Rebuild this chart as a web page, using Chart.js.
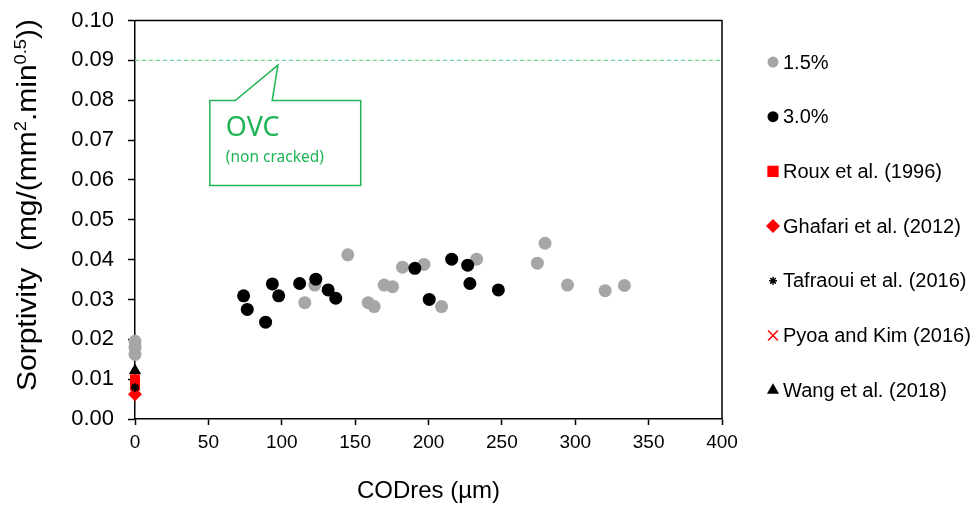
<!DOCTYPE html>
<html>
<head>
<meta charset="utf-8">
<script src="https://cdn.jsdelivr.net/npm/chart.js@4.4.1/dist/chart.umd.min.js"></script>
<style>
  html, body { margin: 0; padding: 0; background: #fff; }
  #wrap { width: 972px; height: 510px; position: relative; }
</style>
</head>
<body>
<div id="wrap"><canvas id="chart"></canvas></div>
<script>
// 1.5% fibre content
const codres15 = [0, 0, 0, 115.7, 122.5, 145, 158.9, 163, 169.8, 175.5, 182.3, 196.9, 208.9, 232.8, 274.2, 279.4, 294.7, 320.4, 333.5];
const sorpt15 = [0.0195, 0.0180, 0.0162, 0.0292, 0.0336, 0.0412, 0.0292, 0.0282, 0.0336, 0.0332, 0.0381, 0.0388, 0.0282, 0.0401, 0.0391, 0.0441, 0.0336, 0.0322, 0.0335];

// 3.0% fibre content
const codres30 = [74, 76.5, 89, 93.6, 97.9, 112.2, 123.2, 131.6, 136.8, 190.7, 200.5, 215.8, 226.7, 228.2, 247.6];
const sorpt30 = [0.0309, 0.0275, 0.0243, 0.0339, 0.0309, 0.0340, 0.0351, 0.0324, 0.0303, 0.0378, 0.0300, 0.0401, 0.0386, 0.0340, 0.0324];

// literature values (uncracked, COD = 0)
const rouxY = [0.0100, 0.0092, 0.0084];
const ghafariY = [0.0062];
const tafraouiY = [0.0078, 0.0080];
const pyoaY = [0.0085];
const wangY = [0.0122];

const ovcValue = 0.09;
const xTicksMax = 400;

const toPts = (xs, ys) => ys.map((y, i) => ({ x: xs[i], y: y }));
const atZero = ys => ys.map(y => ({ x: 0, y: y }));

// draws the legend on the right side
const sideLegend = {
    id: 'sideLegend',
    afterDraw(chart) {
        const ctx = chart.ctx;
        let y = 62;
        ctx.save();
        ctx.font = '20px "Liberation Sans", Arial, sans-serif';
        ctx.textBaseline = 'middle';
        ctx.textAlign = 'left';
        chart.data.datasets.forEach(ds => {
            if (!ds.legendStyle) return;
            const st = ds.legendStyle;
            ctx.fillStyle = ds.backgroundColor;
            ctx.strokeStyle = ds.borderColor;
            ctx.lineWidth = ds.borderWidth;
            Chart.helpers.drawPoint(ctx, {
                pointStyle: ds.pointStyle,
                radius: st.radius,
                rotation: 0,
                borderWidth: ds.borderWidth
            }, 773, y);
            ctx.fillStyle = '#000';
            ctx.fillText(ds.label, 783, y + 1);
            y += 54.7;
        });
        ctx.restore();
    }
};

// frame, y title and OVC callout
const extras = {
    id: 'extras',
    afterDraw(chart) {
        const ctx = chart.ctx;
        const a = chart.chartArea;
        const xs = chart.scales.x, ys = chart.scales.y;
        ctx.save();
        ctx.strokeStyle = '#000';
        ctx.lineWidth = 1.5;
        ctx.beginPath();
        ctx.moveTo(a.left, a.top);
        ctx.lineTo(a.right, a.top);
        ctx.lineTo(a.right, a.bottom);
        ctx.stroke();

        // callout box
        const l = xs.getPixelForValue(51), r = xs.getPixelForValue(153.8);
        const t = ys.getPixelForValue(0.0799), b = ys.getPixelForValue(0.0586);
        const p1 = xs.getPixelForValue(68.3), p2 = xs.getPixelForValue(93.5);
        const tipX = xs.getPixelForValue(97.4), tipY = ys.getPixelForValue(0.0888);
        ctx.strokeStyle = '#1fb455';
        ctx.lineWidth = 1.5;
        ctx.beginPath();
        ctx.moveTo(l, t);
        ctx.lineTo(p1, t);
        ctx.lineTo(tipX, tipY);
        ctx.lineTo(p2, t);
        ctx.lineTo(r, t);
        ctx.lineTo(r, b);
        ctx.lineTo(l, b);
        ctx.closePath();
        ctx.fillStyle = '#fff';
        ctx.fill();
        ctx.stroke();
        ctx.fillStyle = '#1fb455';
        ctx.textAlign = 'left';
        ctx.textBaseline = 'alphabetic';
        ctx.font = '27px "Noto Sans", "Open Sans", sans-serif';
        ctx.fillText('OVC', l + 16, t + 35);
        ctx.font = '15.5px "Noto Sans", "Open Sans", sans-serif';
        ctx.fillText('(non cracked)', l + 16, t + 61);

        // y axis title with superscripts, stretched to span the axis like the original
        ctx.fillStyle = '#000';
        ctx.translate(36, 205);
        ctx.rotate(-Math.PI / 2);
        const parts = [
            ['Sorptivity  (mg/(mm', 27, 0],
            ['2', 16.5, -10],
            ['.min', 27, 0],
            ['0.5', 16.5, -10],
            ['))', 27, 0]
        ];
        let w = 0;
        parts.forEach(p => { ctx.font = p[1] + 'px "Liberation Sans", Arial, sans-serif'; w += ctx.measureText(p[0]).width; });
        ctx.scale(372 / w, 1);
        let x = -w / 2;
        parts.forEach(p => {
            ctx.font = p[1] + 'px "Liberation Sans", Arial, sans-serif';
            ctx.fillText(p[0], x, p[2]);
            x += ctx.measureText(p[0]).width;
        });
        ctx.restore();
    }
};

const fontFam = '"Liberation Sans", Arial, sans-serif';

new Chart(document.getElementById('chart'), {
    type: 'scatter',
    data: {
        datasets: [
            {
                label: 'OVC',
                type: 'line',
                data: [{ x: 0, y: ovcValue }, { x: xTicksMax, y: ovcValue }],
                borderColor: '#6fd596',
                borderWidth: 1.2,
                borderDash: [4, 3],
                pointRadius: 0,
                order: 10
            },
            {
                label: '1.5%',
                data: toPts(codres15, sorpt15),
                backgroundColor: '#a6a6a6',
                borderColor: '#a6a6a6',
                borderWidth: 0,
                pointStyle: 'circle',
                pointRadius: 6.5,
                order: 5,
                legendStyle: { radius: 5.5 }
            },
            {
                label: '3.0%',
                data: toPts(codres30, sorpt30),
                backgroundColor: '#000',
                borderColor: '#000',
                borderWidth: 0,
                pointStyle: 'circle',
                pointRadius: 6.5,
                order: 4,
                legendStyle: { radius: 5.5 }
            },
            {
                label: 'Roux et al. (1996)',
                data: atZero(rouxY),
                backgroundColor: '#ff0000',
                borderColor: '#ff0000',
                borderWidth: 0,
                pointStyle: 'rect',
                pointRadius: 7,
                order: 3,
                legendStyle: { radius: 8 }
            },
            {
                label: 'Ghafari et al. (2012)',
                data: atZero(ghafariY),
                backgroundColor: '#ff0000',
                borderColor: '#ff0000',
                borderWidth: 0,
                pointStyle: 'rectRot',
                pointRadius: 7,
                order: 2,
                legendStyle: { radius: 7 }
            },
            {
                label: 'Tafraoui et al. (2016)',
                data: atZero(tafraouiY),
                backgroundColor: '#000',
                borderColor: '#000',
                borderWidth: 1.5,
                pointStyle: 'star',
                pointRadius: 4,
                order: 1,
                legendStyle: { radius: 4 }
            },
            {
                label: 'Pyoa and Kim (2016)',
                data: atZero(pyoaY),
                backgroundColor: '#ff0000',
                borderColor: '#ff0000',
                borderWidth: 1.5,
                pointStyle: 'crossRot',
                pointRadius: 7,
                order: 1,
                legendStyle: { radius: 7 }
            },
            {
                label: 'Wang et al. (2018)',
                data: atZero(wangY),
                backgroundColor: '#000',
                borderColor: '#000',
                borderWidth: 0,
                pointStyle: 'triangle',
                pointRadius: 7,
                order: 0,
                legendStyle: { radius: 7 }
            }
        ]
    },
    options: {
        responsive: true,
        maintainAspectRatio: false,
        animation: false,
        clip: false,
        layout: { padding: { left: 0, top: 20.5, right: 250, bottom: 0 } },
        plugins: {
            legend: { display: false },
            tooltip: { enabled: false }
        },
        scales: {
            x: {
                type: 'linear',
                min: 0,
                max: xTicksMax,
                afterFit: s => { s.height = 91; s.paddingLeft = 0; s.paddingRight = 0; },
                border: { color: '#000', width: 1.5 },
                grid: { drawOnChartArea: false, tickColor: '#000', tickLength: 6, tickWidth: 1.5 },
                ticks: { stepSize: 50, color: '#000', font: { family: fontFam, size: 19 }, padding: 6, maxRotation: 0 },
                title: {
                    display: true,
                    text: 'CODres (µm)',
                    color: '#000',
                    font: { family: fontFam, size: 24 },
                    padding: { top: 0, bottom: 4 }
                }
            },
            y: {
                type: 'linear',
                min: 0,
                max: 0.1,
                afterFit: s => { s.width = 135; s.paddingTop = 0; s.paddingBottom = 0; },
                border: { color: '#000', width: 1.5 },
                grid: { drawOnChartArea: false, tickColor: '#000', tickLength: 7, tickWidth: 1.5 },
                ticks: {
                    stepSize: 0.01,
                    color: '#000',
                    font: { family: fontFam, size: 22 },
                    padding: 14,
                    callback: v => v.toFixed(2)
                }
            }
        }
    },
    plugins: [sideLegend, extras]
});
</script>
</body>
</html>
